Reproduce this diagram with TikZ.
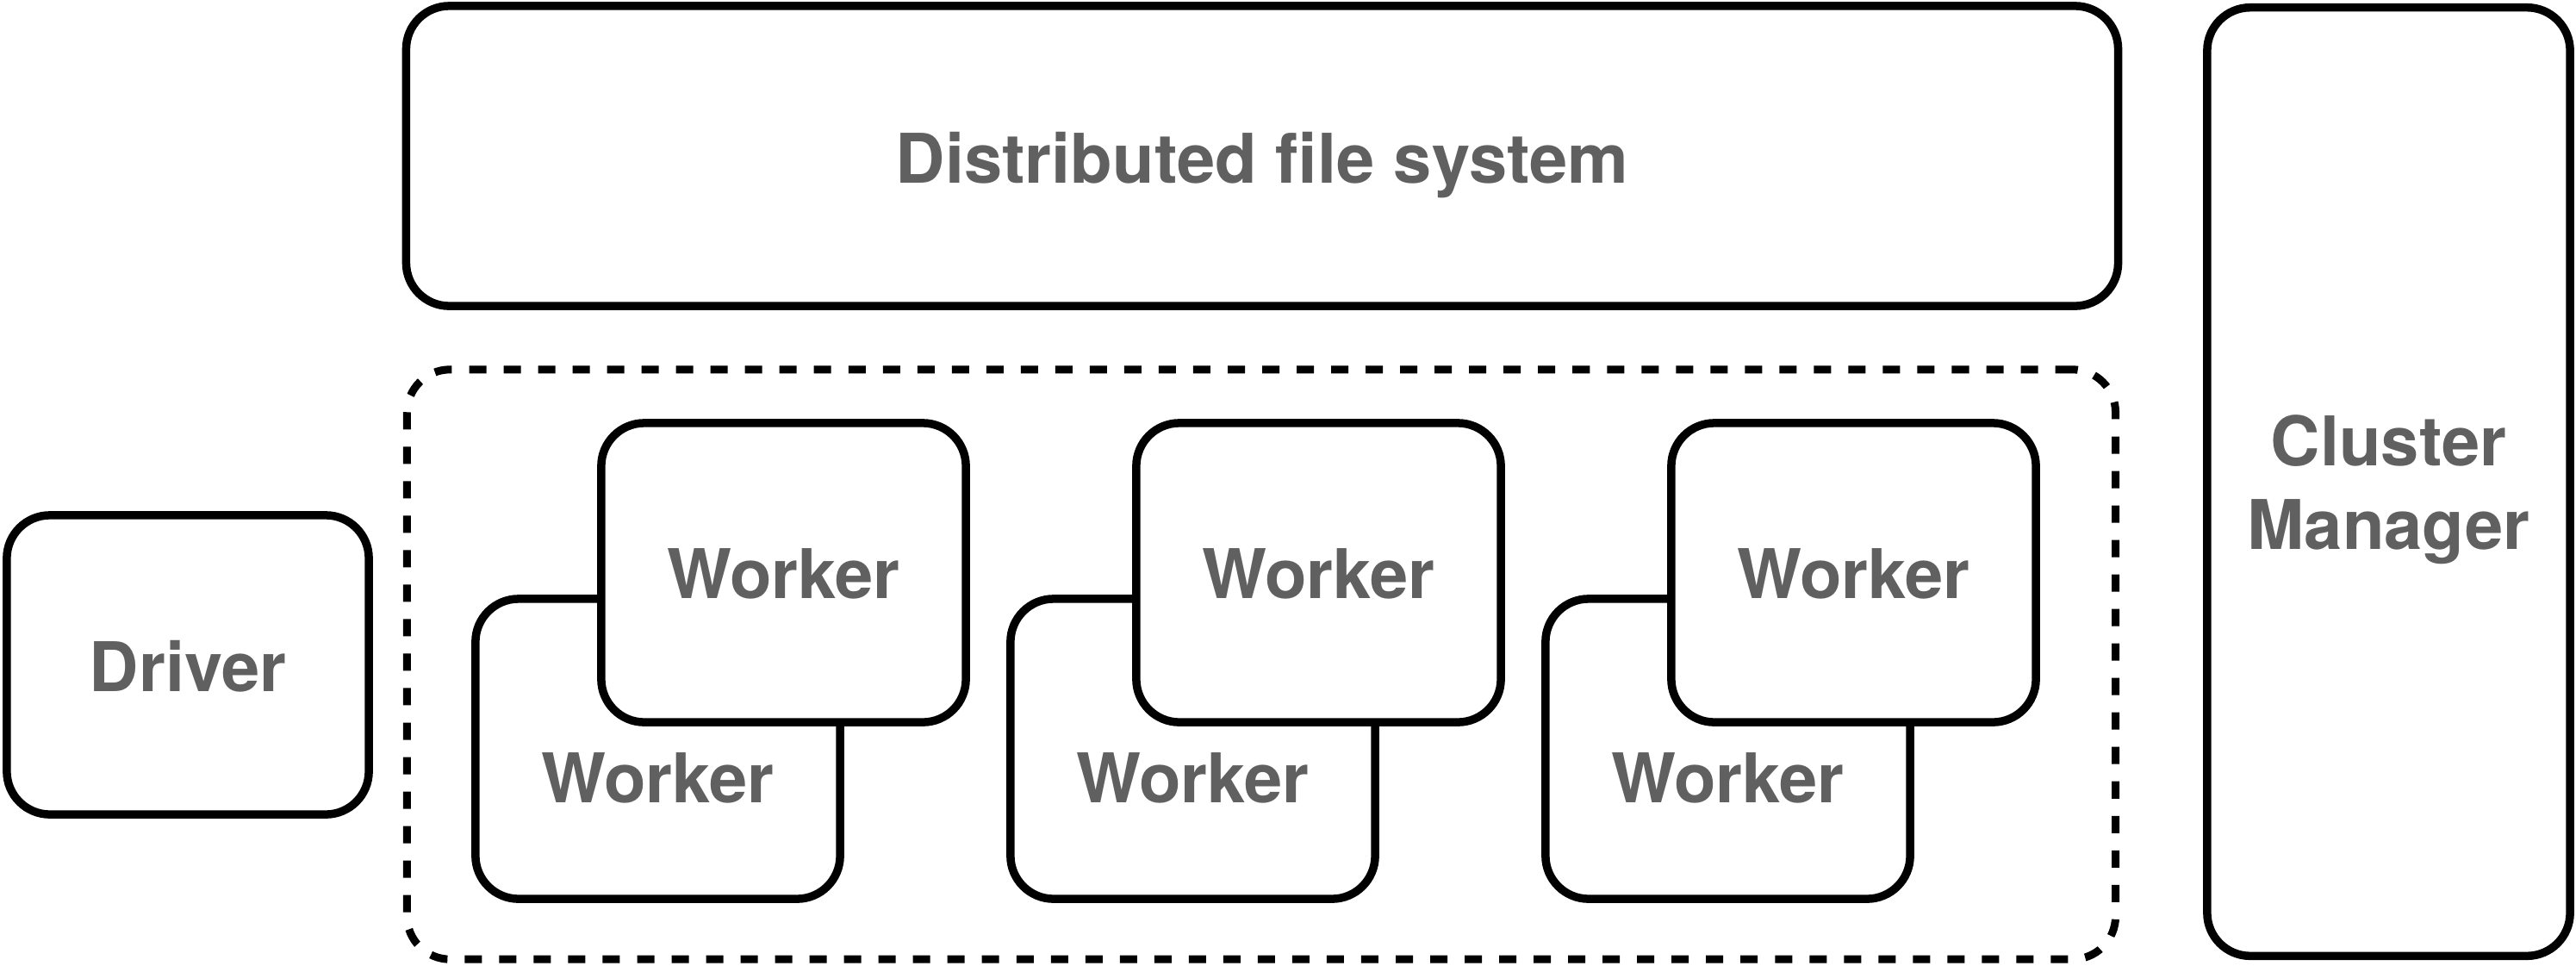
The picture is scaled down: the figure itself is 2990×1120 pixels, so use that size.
\documentclass[tikz,border=0pt]{standalone}
\usepackage{fontspec}
\setmainfont{TeX Gyre Heros}
\definecolor{txt}{RGB}{96,96,96}
\begin{document}
\begin{tikzpicture}[x=0.01cm,y=-0.01cm,
  box/.style={draw=black, line width=0.095cm, rounded corners=0.5cm, inner sep=0pt, outer sep=0pt, fill=white},
  dashbox/.style={draw=black, line width=0.09cm, rounded corners=0.5cm, dash pattern=on 0.2cm off 0.2cm, inner sep=0pt, outer sep=0pt},
  lbl/.style={font=\bfseries\fontsize{22.6}{27}\selectfont, text=txt, inner sep=0pt, anchor=base}]
\path[use as bounding box] (0,0) rectangle (2990,1120);
% distributed file system
\node[box, minimum width=19.86cm, minimum height=3.48cm] (dfs) at (1465,181) {};
\node[lbl] (dfst) at (1465,212) {Distributed file system};
% cluster manager
\node[box, minimum width=4.21cm, minimum height=11.00cm] (cm) at (2772.5,559) {};
\node[lbl] (cmt1) at (2772.5,540) {Cluster};
\node[lbl] (cmt2) at (2772.5,637) {Manager};
% driver
\node[box, minimum width=4.20cm, minimum height=3.47cm] (drv) at (218,771.5) {};
\node[lbl] (drvt) at (218,802) {Driver};
% cluster (dashed)
\node[dashbox, minimum width=19.82cm, minimum height=6.84cm] (clu) at (1464,771) {};
% workers
\foreach \i/\dx in {1/0,2/621,3/1242} {
  \node[box, minimum width=4.23cm, minimum height=3.48cm] (back\i) at (763.5+\dx,869) {};
  \node[lbl] (backt\i) at (763.5+\dx,931) {Worker};
  \node[box, minimum width=4.23cm, minimum height=3.47cm] (front\i) at (909.5+\dx,664.5) {};
  \node[lbl] (frontt\i) at (909.5+\dx,694) {Worker};
}
\end{tikzpicture}
\end{document}
